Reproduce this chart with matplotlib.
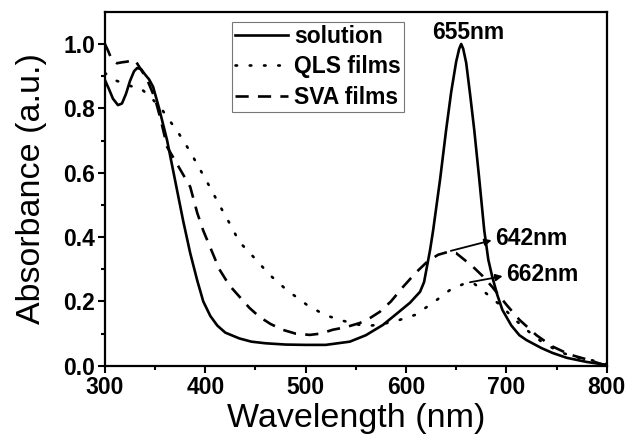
import numpy as np
import matplotlib
matplotlib.use('Agg')
import matplotlib.pyplot as plt

plt.rcParams['font.family'] = ['Liberation Sans', 'DejaVu Sans']

# solution spectrum
wl_sol = [300, 304, 308, 313, 317, 321, 325, 329, 332, 336, 340, 344, 348, 354, 362, 370, 378,
          385, 392, 398, 405, 412, 420, 434, 446, 460, 480, 500, 520, 544, 560, 577, 590,
          604, 614, 618, 621, 624, 627, 634, 640, 645, 650, 653, 655, 657, 660, 664, 668,
          673, 678, 682, 686, 691, 696, 705, 713, 720, 735, 746, 760, 780, 793, 800]
abs_sol = [0.888, 0.86, 0.83, 0.81, 0.815, 0.845, 0.885, 0.915, 0.925, 0.922, 0.905, 0.89, 0.867, 0.80, 0.70, 0.575, 0.45,
           0.35, 0.265, 0.20, 0.155, 0.125, 0.103, 0.085, 0.075, 0.07, 0.066, 0.065, 0.065, 0.075, 0.095, 0.127, 0.16,
           0.196, 0.23, 0.26, 0.31, 0.36, 0.42, 0.58, 0.733, 0.85, 0.945, 0.985, 1.0, 0.985, 0.941, 0.84, 0.733,
           0.58, 0.42, 0.33, 0.276, 0.22, 0.174, 0.125, 0.095, 0.08, 0.055, 0.04, 0.025, 0.012, 0.006, 0.003]

# QLS films
wl_qls = [300, 306, 312, 317, 323, 329, 335, 342, 350, 356, 362, 374, 385, 395, 405, 414, 424,
          434, 449, 464, 481, 501, 519, 537, 554, 565, 574, 591, 609, 627, 644, 660, 668,
          678, 696, 708, 720, 735, 753, 768, 783, 800]
abs_qls = [0.91, 0.895, 0.885, 0.88, 0.872, 0.866, 0.863, 0.845, 0.82, 0.80, 0.773, 0.72, 0.665, 0.609, 0.553, 0.50, 0.444,
           0.385, 0.335, 0.283, 0.236, 0.19, 0.158, 0.14, 0.127, 0.125, 0.128, 0.14, 0.158, 0.196, 0.236, 0.258, 0.255,
           0.23, 0.183, 0.145, 0.112, 0.075, 0.043, 0.028, 0.019, 0.005]

# SVA films
wl_sva = [300, 303, 307, 312, 317, 322, 326, 330, 333, 337, 342, 346, 350, 356, 362, 375, 385, 392,
          398, 406, 414, 424, 434, 444, 454, 465, 477, 490, 504, 515, 527, 540, 554, 565,
          574, 585, 597, 610, 621, 632, 642, 650, 658, 667, 676, 686, 700, 713, 730, 746,
          763, 780, 790, 800]
abs_sva = [1.0, 0.98, 0.95, 0.94, 0.943, 0.945, 0.948, 0.95, 0.935, 0.915, 0.89, 0.86, 0.83, 0.76, 0.68, 0.61, 0.556, 0.475,
           0.42, 0.36, 0.30, 0.25, 0.215, 0.18, 0.152, 0.13, 0.112, 0.10, 0.096, 0.10, 0.112, 0.12, 0.133, 0.15,
           0.168, 0.20, 0.245, 0.29, 0.323, 0.345, 0.354, 0.35, 0.33, 0.307, 0.28, 0.245, 0.19, 0.143, 0.095, 0.06,
           0.035, 0.02, 0.01, 0.0]

fig = plt.figure(figsize=(6.32, 4.36), dpi=100)
ax = fig.add_axes([0.166, 0.161, 0.794, 0.812])

lw = 1.9
ax.plot(wl_sol, abs_sol, color='black', lw=lw, ls='-', label='solution')
ax.plot(wl_qls, abs_qls, color='black', lw=lw, ls=(0, (0.6, 4.8)), dash_capstyle='round', label='QLS films')
ax.plot(wl_sva, abs_sva, color='black', lw=lw, ls=(0, (5, 3.5)), label='SVA films')

ax.set_xlim(300, 800)
ax.set_ylim(0, 1.1)
ax.set_xticks([300, 400, 500, 600, 700, 800])
ax.set_xticks(np.arange(350, 800, 100), minor=True)
ax.set_yticks([0.0, 0.2, 0.4, 0.6, 0.8, 1.0])
ax.set_yticks(np.arange(0.1, 1.1, 0.2), minor=True)
ax.tick_params(which='major', direction='out', length=5, width=1.5, labelsize=16.5, pad=2)
ax.tick_params(which='minor', direction='out', length=3, width=1.5)
for lab in ax.get_xticklabels() + ax.get_yticklabels():
    lab.set_fontweight('bold')
for sp in ax.spines.values():
    sp.set_linewidth(1.6)

ax.set_xlabel('Wavelength (nm)', fontsize=24.5, labelpad=3)
ax.set_ylabel('Absorbance (a.u.)', fontsize=24.5, labelpad=12)

leg = ax.legend(loc='upper left', bbox_to_anchor=(0.253, 0.972), borderaxespad=0,
                prop={'weight': 'bold', 'size': 16.5}, fancybox=False, frameon=True,
                handlelength=2.3, handletextpad=0.25, labelspacing=0.32, borderpad=0.15)
leg.get_frame().set_edgecolor('#555555')
leg.get_frame().set_linewidth(0.8)

ax.text(662, 1.035, '655nm', fontsize=16.5, fontweight='bold', ha='center', va='center')
ax.text(689, 0.397, '642nm', fontsize=16.5, fontweight='bold', ha='left', va='center')
ax.annotate('', xy=(688, 0.392), xytext=(642, 0.355),
            arrowprops=dict(arrowstyle='-|>', color='black', lw=1.3, mutation_scale=10))
ax.text(700, 0.283, '662nm', fontsize=16.5, fontweight='bold', ha='left', va='center')
ax.annotate('', xy=(699, 0.28), xytext=(661, 0.258),
            arrowprops=dict(arrowstyle='-|>', color='black', lw=1.3, mutation_scale=10))

fig.savefig('out.png', dpi=100)
